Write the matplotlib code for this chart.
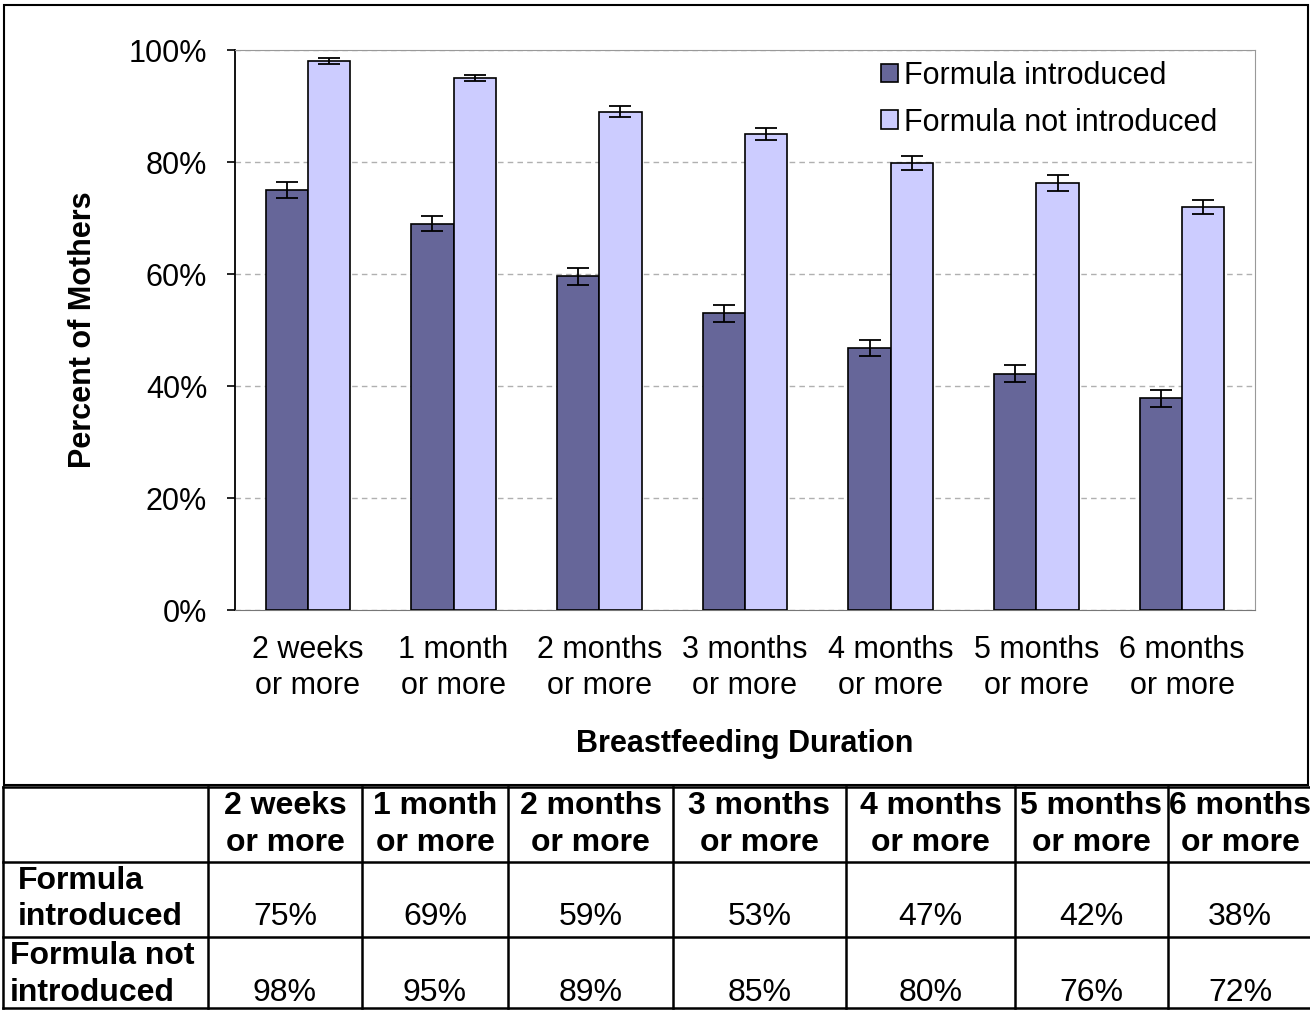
import matplotlib
matplotlib.use("Agg")
import matplotlib.pyplot as plt
from matplotlib.patches import Rectangle
import numpy as np

plt.rcParams['font.family'] = ['Liberation Sans', 'DejaVu Sans']

categories = ["2 weeks\nor more", "1 month\nor more", "2 months\nor more", "3 months\nor more",
              "4 months\nor more", "5 months\nor more", "6 months\nor more"]
series_names = ["Formula introduced", "Formula not introduced"]
introduced = [75, 69, 59.6, 53, 46.8, 42.2, 37.8]
introduced_err = [1.5, 1.4, 1.5, 1.5, 1.5, 1.5, 1.5]
not_introduced = [98, 95, 89, 85, 79.8, 76.3, 72]
not_introduced_err = [0.5, 0.6, 1.0, 1.1, 1.2, 1.4, 1.3]
table_row1 = ["75%", "69%", "59%", "53%", "47%", "42%", "38%"]
table_row2 = ["98%", "95%", "89%", "85%", "80%", "76%", "72%"]

W, H = 1310, 1011
fig = plt.figure(figsize=(W / 100, H / 100), dpi=100)

# chart box + table drawn in pixel coords on a background axes
bg = fig.add_axes([0, 0, 1, 1])
bg.set_xlim(0, W)
bg.set_ylim(H, 0)
bg.axis('off')
bg.add_patch(Rectangle((4, 5), 1304, 780, fill=False, edgecolor='black', lw=1.5))

ax = fig.add_axes([235 / W, 1 - 610 / H, (1255 - 235) / W, 560 / H])
x = np.arange(len(categories))
bw = 0.29
ax.bar(x - bw / 2, introduced, bw, yerr=introduced_err, color='#666699', edgecolor='black',
       lw=1.2, label=series_names[0], capsize=8, error_kw=dict(elinewidth=1.3, capthick=1.3), zorder=3)
ax.bar(x + bw / 2, not_introduced, bw, yerr=not_introduced_err, color='#ccccff', edgecolor='black',
       lw=1.2, label=series_names[1], capsize=8, error_kw=dict(elinewidth=1.3, capthick=1.3), zorder=3)
ax.set_xlim(-0.5, len(categories) - 0.5)
ax.set_ylim(0, 100)
ax.set_yticks(range(0, 101, 20))
ax.set_yticklabels([f"{v}%" for v in range(0, 101, 20)], fontsize=22)
ax.set_xticks(x)
ax.set_xticklabels(categories, fontsize=22, linespacing=1.28)
ax.tick_params(axis='x', length=0, pad=18)
ax.tick_params(axis='y', length=6, width=1.2, pad=14, direction='out')
ax.yaxis.grid(True, linestyle=(0, (4, 3)), color='#b0b0b0', lw=1)
ax.set_axisbelow(True)
for s in ['top', 'right']:
    ax.spines[s].set_color('#999999')
ax.spines['left'].set_linewidth(1.3)
ax.spines['bottom'].set_color('#777777')
ax.set_xlabel("Breastfeeding Duration", fontsize=22, fontweight='bold', labelpad=20)
ax.set_ylabel("Percent of Mothers", fontsize=22, fontweight='bold', labelpad=22)
ax.legend(loc='upper right', bbox_to_anchor=(0.99, 1.03), frameon=False, fontsize=22,
          handlelength=0.55, handleheight=0.55, handletextpad=0.2, labelspacing=0.55)

# table
cols = [3, 208, 362, 508, 673, 846, 1015, 1168, 1312]
rows = [787, 862, 937, 1008]
for yy in rows:
    bg.plot([cols[0], cols[-1]], [yy, yy], color='black', lw=1.8)
for xx in cols[:-1]:
    bg.plot([xx, xx], [rows[0], rows[-1]], color='black', lw=1.8)
for i, lab in enumerate(categories):
    cx = (cols[i + 1] + cols[i + 2]) / 2
    l1, l2 = lab.split("\n")
    bg.text(cx, 806, l1, ha='center', va='center', fontsize=23, fontweight='bold')
    bg.text(cx, 843, l2, ha='center', va='center', fontsize=23, fontweight='bold')
    bg.text(cx, 917, table_row1[i], ha='center', va='center', fontsize=23)
    bg.text(cx, 993, table_row2[i], ha='center', va='center', fontsize=23)
bg.text(18, 881, "Formula", ha='left', va='center', fontsize=23, fontweight='bold')
bg.text(18, 917, "introduced", ha='left', va='center', fontsize=23, fontweight='bold')
bg.text(10, 956, "Formula not", ha='left', va='center', fontsize=23, fontweight='bold')
bg.text(10, 993, "introduced", ha='left', va='center', fontsize=23, fontweight='bold')

fig.savefig("out.png", dpi=100)
